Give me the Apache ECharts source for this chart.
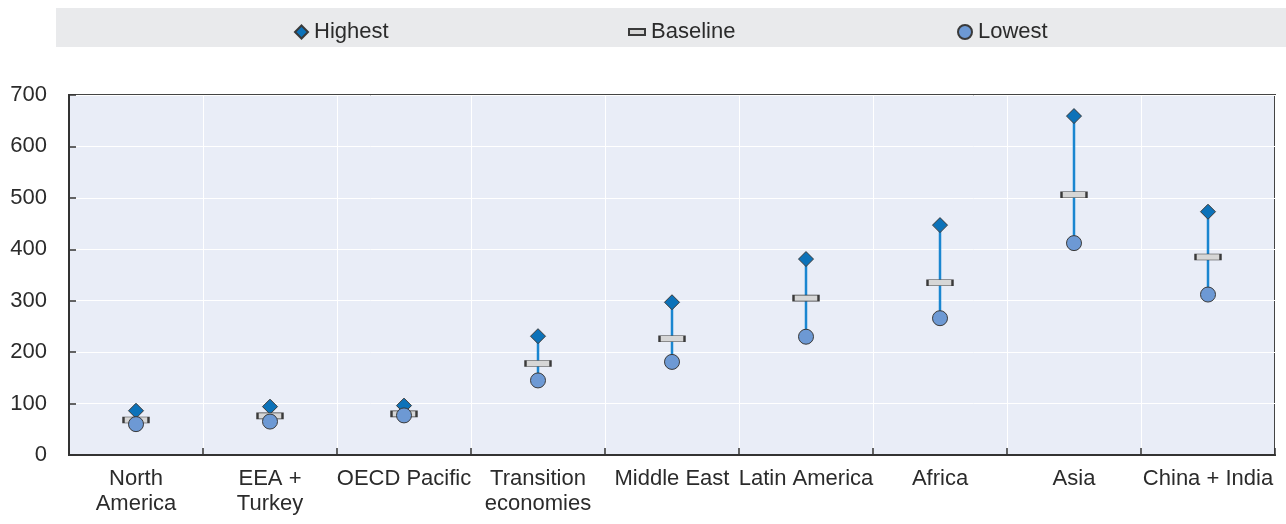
<!DOCTYPE html>
<html>
<head>
<meta charset="utf-8">
<script src="https://cdn.jsdelivr.net/npm/echarts@6/dist/echarts.min.js"></script>
<style>
  html, body { margin: 0; padding: 0; background: #fff; }
  #chart { width: 1286px; height: 524px; }
</style>
</head>
<body>
<div id="chart"></div>
<script>
// Regions along the x axis (line breaks as printed under the axis)
const categories = [
  'North\nAmerica', 'EEA +\nTurkey', 'OECD Pacific', 'Transition\neconomies',
  'Middle East', 'Latin America', 'Africa', 'Asia', 'China + India'
];
// Values per region
const highest  = [86, 94, 96, 231, 297, 381, 447, 659, 473];
const baseline = [68, 76, 80, 178, 226, 305, 335, 506, 385];
const lowest   = [60, 65, 77, 145, 181, 230, 266, 412, 312];
// Value axis ticks
const yTicks = [0, 100, 200, 300, 400, 500, 600, 700];

const FONT = '"Liberation Sans", Arial, sans-serif';
const TEXT = '#2b2b2b';
const OUTLINE = '#3a3a3a';

const rangeData = categories.map((c, i) => [i, highest[i], lowest[i]]);

const chart = echarts.init(document.getElementById('chart'), null, { renderer: 'canvas' });

const legendCommon = {
  orient: 'horizontal',
  top: 16,
  itemGap: 0,
  textStyle: { fontFamily: FONT, fontSize: 22, color: TEXT, padding: [0, 0, 0, 1] },
  selectedMode: false
};

chart.setOption({
  animation: false,
  textStyle: { fontFamily: FONT },
  graphic: [{
    type: 'rect',
    shape: { x: 56, y: 8, width: 1230, height: 39 },
    style: { fill: '#e9eaec' },
    silent: true,
    z: -10
  }],
  legend: [
    Object.assign({}, legendCommon, { left: 289, data: ['Highest'], itemWidth: 13, itemHeight: 13 }),
    Object.assign({}, legendCommon, { left: 623, data: ['Baseline'], itemWidth: 16, itemHeight: 6 }),
    Object.assign({}, legendCommon, { left: 952, data: ['Lowest'], itemWidth: 14, itemHeight: 14 })
  ],
  grid: {
    left: 69, right: 11, top: 95, bottom: 69,
    show: true,
    backgroundColor: '#e9edf7',
    borderColor: '#444444',
    borderWidth: 2
  },
  xAxis: {
    type: 'category',
    data: categories,
    boundaryGap: true,
    axisLine: { lineStyle: { color: '#333333', width: 2 } },
    axisTick: { show: true, inside: true, length: 7, lineStyle: { color: '#333333', width: 1.5 } },
    splitLine: { show: true, lineStyle: { color: '#ffffff', width: 1 } },
    axisLabel: {
      fontFamily: FONT, fontSize: 22, color: TEXT, lineHeight: 25,
      margin: 11, interval: 0
    }
  },
  yAxis: {
    type: 'value',
    min: yTicks[0],
    max: yTicks[yTicks.length - 1],
    interval: 100,
    axisLine: { show: true, lineStyle: { color: '#333333', width: 2 } },
    axisTick: { show: true, inside: true, length: 7, lineStyle: { color: '#333333', width: 1.5 } },
    splitLine: { show: true, lineStyle: { color: '#ffffff', width: 1 } },
    axisLabel: { fontFamily: FONT, fontSize: 22, color: TEXT, margin: 22 }
  },
  series: [
    {
      name: 'Range',
      type: 'custom',
      data: rangeData,
      z: 1,
      silent: true,
      renderItem: function (params, api) {
        const top = api.coord([api.value(0), api.value(1)]);
        const bot = api.coord([api.value(0), api.value(2)]);
        return {
          type: 'line',
          shape: { x1: top[0], y1: top[1], x2: bot[0], y2: bot[1] },
          style: { stroke: '#1a86d0', lineWidth: 2.5 }
        };
      }
    },
    {
      name: 'Highest',
      type: 'scatter',
      data: highest,
      symbol: 'diamond',
      symbolSize: 15,
      z: 2,
      itemStyle: { color: '#0c72b9', borderColor: OUTLINE, borderWidth: 1, opacity: 1 }
    },
    {
      name: 'Baseline',
      type: 'scatter',
      data: baseline,
      symbol: 'rect',
      symbolSize: [25, 6],
      z: 3,
      itemStyle: { color: '#d6d6d6', borderColor: OUTLINE, borderWidth: 1.2, opacity: 1 }
    },
    {
      name: 'Lowest',
      type: 'scatter',
      data: lowest,
      symbol: 'circle',
      symbolSize: 15,
      z: 4,
      itemStyle: { color: '#6d99d4', borderColor: OUTLINE, borderWidth: 1, opacity: 1 }
    }
  ]
});
</script>
</body>
</html>
